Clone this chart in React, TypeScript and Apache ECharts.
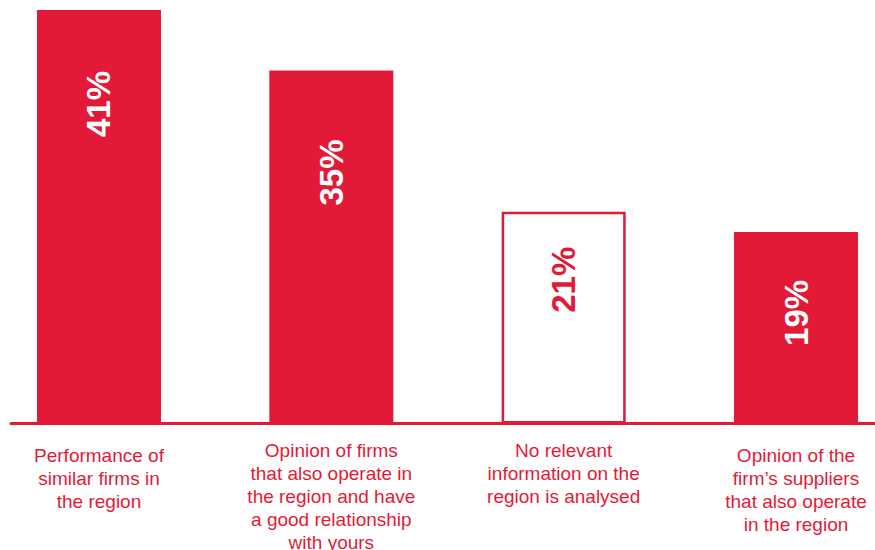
import React, { useEffect, useRef } from 'react';
import * as echarts from 'echarts';

const categories = [
  'Performance of\nsimilar firms in\nthe region',
  'Opinion of firms\nthat also operate in\nthe region and have\na good relationship\nwith yours',
  'No relevant\ninformation on the\nregion is analysed',
  'Opinion of the\nfirm\u2019s suppliers\nthat also operate\nin the region',
];
const values = [41, 35, 21, 19];
const outlined = [false, false, true, false];

// styling (not data)
const RED = '#e31a37';
const LABEL_DISTANCE = [61, 69, 35, 48];
const CAT_PAD_TOP = [5, 0, 0, 5];
const FONT = '"Liberation Sans", Arial, Helvetica, sans-serif';

export default function App() {
  const ref = useRef<HTMLDivElement>(null);
  useEffect(() => {
    if (!ref.current) return;
    const chart = echarts.init(ref.current, undefined, { renderer: 'svg' });
    chart.setOption({
      animation: false,
      backgroundColor: '#ffffff',
      textStyle: { fontFamily: FONT },
      grid: [
        { left: -17.17, right: -37.17, top: 10, bottom: 126.5, containLabel: false, outerBoundsMode: 'none' },
        { left: 11, right: 0, top: 10, bottom: 126.5, containLabel: false, outerBoundsMode: 'none' },
      ],
      xAxis: [
        {
          type: 'category',
          gridIndex: 0,
          data: categories.map((c, i) => ({
            value: c,
            textStyle: { padding: [CAT_PAD_TOP[i], 0, 0, 0] },
          })),
          axisLine: { show: false },
          axisTick: { show: false },
          axisLabel: {
            interval: 0,
            margin: 15,
            color: RED,
            fontSize: 19,
            lineHeight: 23,
            fontFamily: FONT,
            align: 'center',
          },
        },
        {
          type: 'value',
          gridIndex: 1,
          axisLine: { show: true, onZero: false, lineStyle: { color: RED, width: 3 } },
          axisTick: { show: false },
          axisLabel: { show: false },
          splitLine: { show: false },
        },
      ],
      yAxis: [
        { type: 'value', gridIndex: 0, min: 0, max: 41, show: false },
        { type: 'value', gridIndex: 1, show: false },
      ],
      series: [
        {
          type: 'bar',
          xAxisIndex: 0,
          yAxisIndex: 0,
          barWidth: 124,
          z: 3,
          data: values.map((v, i) => ({
            value: v,
            itemStyle: outlined[i]
              ? { color: '#ffffff', borderColor: RED, borderWidth: 2.5 }
              : { color: RED },
            label: {
              show: true,
              position: 'insideTop',
              distance: LABEL_DISTANCE[i],
              rotate: 90,
              align: 'right',
              verticalAlign: 'middle',
              color: outlined[i] ? RED : '#ffffff',
              fontSize: 33,
              fontWeight: 'bold',
              fontFamily: FONT,
              formatter: '{c}%',
            },
          })),
        },
      ],
    });
    return () => chart.dispose();
  }, []);
  return (
    <div
      ref={ref}
      style={{ position: 'fixed', left: 0, top: 0, width: 875, height: 550, background: '#fff' }}
    />
  );
}
